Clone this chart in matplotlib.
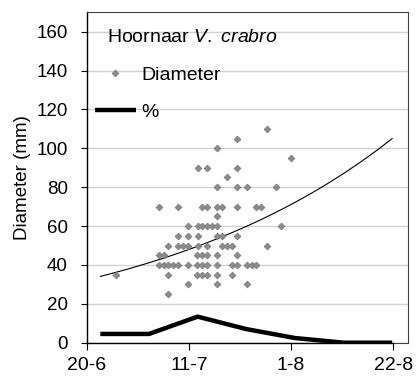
import matplotlib
matplotlib.use('Agg')
import matplotlib.pyplot as plt
import numpy as np

plt.rcParams['font.family'] = ['Liberation Sans', 'DejaVu Sans']
plt.rcParams['mathtext.fontset'] = 'custom'
plt.rcParams['mathtext.rm'] = 'Liberation Sans'
plt.rcParams['mathtext.it'] = 'Liberation Sans:italic'

# days after 20-6
tick_days = [0, 21, 42, 63]
tick_labels = ['20-6', '11-7', '1-8', '22-8']

# nest diameters (mm) per sampling day
nest_day = [16.8,
            20.8, 26.8, 32.9,
            6.0, 16.8, 22.7, 23.7, 24.8, 26.8, 29.8,
            14.9, 15.9, 16.8, 17.8, 18.8, 20.8, 22.7, 23.7, 24.7, 26.8, 29.8, 30.9, 32.9, 33.9, 34.9,
            14.9, 15.9, 22.7, 23.8, 24.8, 26.8, 30.9,
            16.8, 18.8, 19.8, 20.8, 22.8, 24.8, 27.8, 28.8, 29.8, 37.0,
            18.8, 20.8, 22.8, 26.8, 27.8, 30.9,
            20.8, 22.8, 23.8, 24.8, 25.8, 26.8, 39.9,
            26.8,
            14.9, 18.8, 23.7, 24.7, 26.8, 27.8, 30.9, 34.9, 35.8,
            26.8, 30.9, 32.9, 38.9,
            28.8,
            22.8, 24.8, 30.9,
            41.9, 26.8, 30.9, 37.0]
nest_diam = [25,
             30, 30, 30,
             35, 35, 35, 35, 35, 35, 35,
             40, 40, 40, 40, 40, 40, 40, 40, 40, 40, 40, 40, 40, 40, 40,
             45, 45, 45, 45, 45, 45, 45,
             50, 50, 50, 50, 50, 50, 50, 50, 50, 50,
             55, 55, 55, 55, 55, 55,
             60, 60, 60, 60, 60, 60, 60,
             65,
             70, 70, 70, 70, 70, 70, 70, 70, 70,
             80, 80, 80, 80,
             85,
             90, 90, 90,
             95, 100, 105, 110]

# percentage series
pct_day = [2.8, 12.8, 22.8, 32.8, 42.8, 52.8, 62.8]
pct_val = [4.5, 4.5, 13.4, 7.0, 2.4, 0, 0]

fig = plt.figure(figsize=(4.17, 3.76), dpi=100)
ax = fig.add_axes([0.208, 0.0886, 0.771, 0.8787])

# exponential trendline fitted on the diameters
b, a = np.polyfit(nest_day, np.log(nest_diam), 1)
tx = np.linspace(pct_day[0], pct_day[-1], 200)
ax.plot(tx, np.exp(a + b * tx), color='black', lw=0.8, zorder=3)

ax.plot(nest_day, nest_diam, 'D', color='#8c8c8c', mec='#7a7a7a', mew=0.5,
        ms=3.5, label='Diameter', zorder=4)
ax.plot(pct_day, pct_val, color='black', lw=3.2, label='%', zorder=5,
        solid_capstyle='butt')

ax.set_xlim(0, 66.1)
ax.set_ylim(0, 170)
ax.set_yticks(range(0, 161, 20))
ax.set_xticks(tick_days)
ax.set_xticklabels(tick_labels)
ax.yaxis.grid(True, color='#d0d0d0', lw=1)
ax.set_axisbelow(True)

for s in ['top', 'right']:
    ax.spines[s].set_color('#404040')
    ax.spines[s].set_linewidth(0.8)
ax.spines['left'].set_color('black')
ax.spines['bottom'].set_color('black')
ax.spines['left'].set_linewidth(1.0)
ax.spines['bottom'].set_linewidth(1.0)
ax.spines['bottom'].set_bounds(0, 63)
ax.axhline(0, xmin=63 / 66.1, xmax=1, color='#404040', lw=0.8, clip_on=False)

ax.tick_params(axis='y', direction='out', length=4.5, width=0.8, pad=9,
               labelsize=13.5)
ax.tick_params(axis='x', direction='out', length=5, width=0.8, pad=5,
               labelsize=14)
ax.set_ylabel('Diameter (mm)', fontsize=13.5, labelpad=4)

ax.text(0.064, 0.924, r'Hoornaar $\mathit{V.\ crabro}$', transform=ax.transAxes,
        fontsize=14, va='center', ha='left')
ax.legend(loc='upper left', bbox_to_anchor=(0.0, 0.86), frameon=False,
          fontsize=14, handlelength=2.15, handletextpad=0.25,
          labelspacing=1.0, borderaxespad=0.2, borderpad=0.2)

fig.savefig('out.png', dpi=100)
